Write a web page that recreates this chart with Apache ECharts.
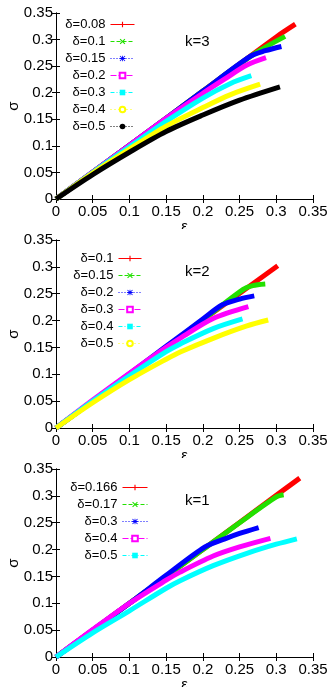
<!DOCTYPE html>
<html>
<head>
<meta charset="utf-8">
<script src="https://cdn.jsdelivr.net/npm/echarts@6/dist/echarts.min.js"></script>
<style>
  body { margin: 0; background: #fff; }
  .panel { width: 327px; height: 229px; }
</style>
</head>
<body>
<div id="k3" class="panel"></div>
<div id="k2" class="panel"></div>
<div id="k1" class="panel"></div>
<script>
// ---- data: [epsilon, sigma] ----
// k=3
var k3Names = ['δ=0.08', 'δ=0.1', 'δ=0.15', 'δ=0.2', 'δ=0.3', 'δ=0.4', 'δ=0.5'];
var k3_d008 = [[0, 0], [0.1, 0.101], [0.2, 0.203], [0.3, 0.305], [0.326, 0.329]];
var k3_d01  = [[0, 0], [0.1, 0.101], [0.2, 0.203], [0.27, 0.273], [0.312, 0.306]];
var k3_d015 = [[0, 0], [0.1, 0.101], [0.2, 0.203], [0.264, 0.268], [0.285, 0.279], [0.307, 0.287]];
var k3_d02  = [[0, 0], [0.1, 0.101], [0.15, 0.152], [0.2, 0.199], [0.23, 0.226], [0.26, 0.252], [0.286, 0.266]];
var k3_d03  = [[0, 0], [0.05, 0.05], [0.1, 0.098], [0.15, 0.146], [0.2, 0.19], [0.237, 0.217], [0.266, 0.232]];
var k3_d04  = [[0, 0], [0.05, 0.049], [0.1, 0.094], [0.15, 0.137], [0.2, 0.172], [0.237, 0.196], [0.278, 0.216]];
var k3_d05  = [[0, 0], [0.05, 0.046], [0.1, 0.088], [0.15, 0.127], [0.2, 0.158], [0.25, 0.186], [0.305, 0.211]];

// k=2
var k2Names = ['δ=0.1', 'δ=0.15', 'δ=0.2', 'δ=0.3', 'δ=0.4', 'δ=0.5'];
var k2_d01  = [[0, 0], [0.1, 0.1], [0.2, 0.201], [0.302, 0.302]];
var k2_d015 = [[0, 0], [0.1, 0.1], [0.2, 0.201], [0.255, 0.258], [0.268, 0.265], [0.285, 0.268]];
var k2_d02  = [[0, 0], [0.1, 0.101], [0.15, 0.152], [0.2, 0.203], [0.226, 0.229], [0.25, 0.24], [0.27, 0.246]];
var k2_d03  = [[0, 0], [0.05, 0.052], [0.1, 0.102], [0.15, 0.15], [0.17, 0.168], [0.214, 0.204], [0.262, 0.226]];
var k2_d04  = [[0, 0], [0.05, 0.05], [0.1, 0.097], [0.15, 0.142], [0.17, 0.157], [0.214, 0.185], [0.254, 0.203]];
var k2_d05  = [[0, 0], [0.05, 0.047], [0.1, 0.09], [0.15, 0.128], [0.17, 0.142], [0.214, 0.167], [0.26, 0.19], [0.289, 0.201]];

// k=1
var k1Names = ['δ=0.166', 'δ=0.17', 'δ=0.3', 'δ=0.4', 'δ=0.5'];
var k1_d0166 = [[0, 0], [0.1, 0.1], [0.2, 0.2], [0.3, 0.301], [0.332, 0.333]];
var k1_d017  = [[0, 0], [0.1, 0.1], [0.2, 0.2], [0.25, 0.25], [0.3, 0.298], [0.31, 0.302]];
var k1_d03   = [[0, 0], [0.1, 0.1], [0.15, 0.152], [0.203, 0.205], [0.23, 0.22], [0.25, 0.23], [0.276, 0.241]];
var k1_d04   = [[0, 0], [0.05, 0.051], [0.1, 0.1], [0.15, 0.143], [0.169, 0.158], [0.214, 0.188], [0.25, 0.205], [0.292, 0.221]];
var k1_d05   = [[0, 0], [0.05, 0.045], [0.1, 0.086], [0.15, 0.128], [0.169, 0.142], [0.214, 0.17], [0.26, 0.193], [0.3, 0.21], [0.328, 0.22]];

// ---- gnuplot-like line types ----
var plusSym  = 'path://M4,0H6V4H10V6H6V10H4V6H0V4H4Z';
var crossSym = 'path://M1.4,0L5,3.6L8.6,0L10,1.4L6.4,5L10,8.6L8.6,10L5,6.4L1.4,10L0,8.6L3.6,5L0,1.4Z';
var starSym  = 'path://M4.3,0H5.7V4.3H10V5.7H5.7V10H4.3V5.7H0V4.3H4.3Z M1,0L5,4L9,0L10,1L6,5L10,9L9,10L5,6L1,10L0,9L4,5L0,1Z';
var ltColor  = ['#ff0000', '#22e000', '#0000ff', '#ff00ff', '#00ffff', '#ffff00', '#000000'];
var ltSymbol = [plusSym, crossSym, starSym, 'emptyRect', 'rect', 'emptyCircle', 'circle'];
var ltDash   = ['solid', [4, 2], [1, 2], [6, 2], [4, 2, 1, 2], [1, 3], [1, 2]];

var font = 'Liberation Sans, Arial, sans-serif';

function makePanel(id, names, curves, label, lay) {
    var chart = echarts.init(document.getElementById(id));
    var axisBase = {
        type: 'value', min: 0, max: 0.35, interval: 0.05,
        axisLine: { lineStyle: { color: '#000', width: 1 } },
        axisTick: { inside: true, length: 4, lineStyle: { color: '#000' } },
        splitLine: { show: false }
    };
    var labelStyle = { color: '#000', fontFamily: font, fontSize: 15 };
    var series = curves.map(function (c, i) {
        return {
            name: names[i], type: 'line', data: c,
            smooth: 0.3,
            showSymbol: false, symbol: ltSymbol[i], symbolSize: 6,
            lineStyle: { color: ltColor[i], width: 5 },
            itemStyle: { color: ltColor[i] },
            emphasis: { disabled: true }
        };
    });
    chart.setOption({
        animation: false,
        title: {
            text: label, left: lay.kx, top: lay.ky,
            textStyle: { fontFamily: font, fontSize: 15, fontWeight: 'normal', color: '#000' }
        },
        legend: {
            orient: 'vertical', align: 'right', right: lay.legRight, top: lay.legTop,
            itemWidth: lay.legW, itemHeight: 7, itemGap: 4, selectedMode: false,
            textStyle: { fontFamily: font, fontSize: 13, color: '#000' },
            lineStyle: { width: 1 },
            data: names.map(function (n, i) { return { name: n, lineStyle: { type: ltDash[i] } }; })
        },
        grid: { left: 56, right: 14, top: lay.top, bottom: 30, outerBoundsMode: 'none', containLabel: false },
        xAxis: [
            Object.assign({}, axisBase, {
                position: 'bottom', name: 'ε', nameLocation: 'middle', nameGap: 20,
                nameMoveOverlap: false, nameTextStyle: labelStyle,
                axisLabel: { margin: 5, color: '#000', fontFamily: font, fontSize: 15 }
            }),
            Object.assign({}, axisBase, { position: 'top', axisLabel: { show: false } })
        ],
        yAxis: [
            Object.assign({}, axisBase, {
                position: 'left', name: 'σ', nameLocation: 'middle', nameGap: 35,
                nameMoveOverlap: false, nameTextStyle: labelStyle,
                axisLabel: { margin: 3, color: '#000', fontFamily: font, fontSize: 15 }
            }),
            Object.assign({}, axisBase, { position: 'right', axisLabel: { show: false } })
        ],
        series: series
    });
}

makePanel('k3', k3Names, [k3_d008, k3_d01, k3_d015, k3_d02, k3_d03, k3_d04, k3_d05], 'k=3',
    { top: 13, kx: 180, ky: 29, legRight: 187, legTop: 13, legW: 24 });
makePanel('k2', k2Names, [k2_d01, k2_d015, k2_d02, k2_d03, k2_d04, k2_d05], 'k=2',
    { top: 11, kx: 180, ky: 30, legRight: 180, legTop: 18, legW: 23 });
makePanel('k1', k1Names, [k1_d0166, k1_d017, k1_d03, k1_d04, k1_d05], 'k=1',
    { top: 11, kx: 180, ky: 30, legRight: 174, legTop: 18, legW: 25 });
</script>
</body>
</html>
